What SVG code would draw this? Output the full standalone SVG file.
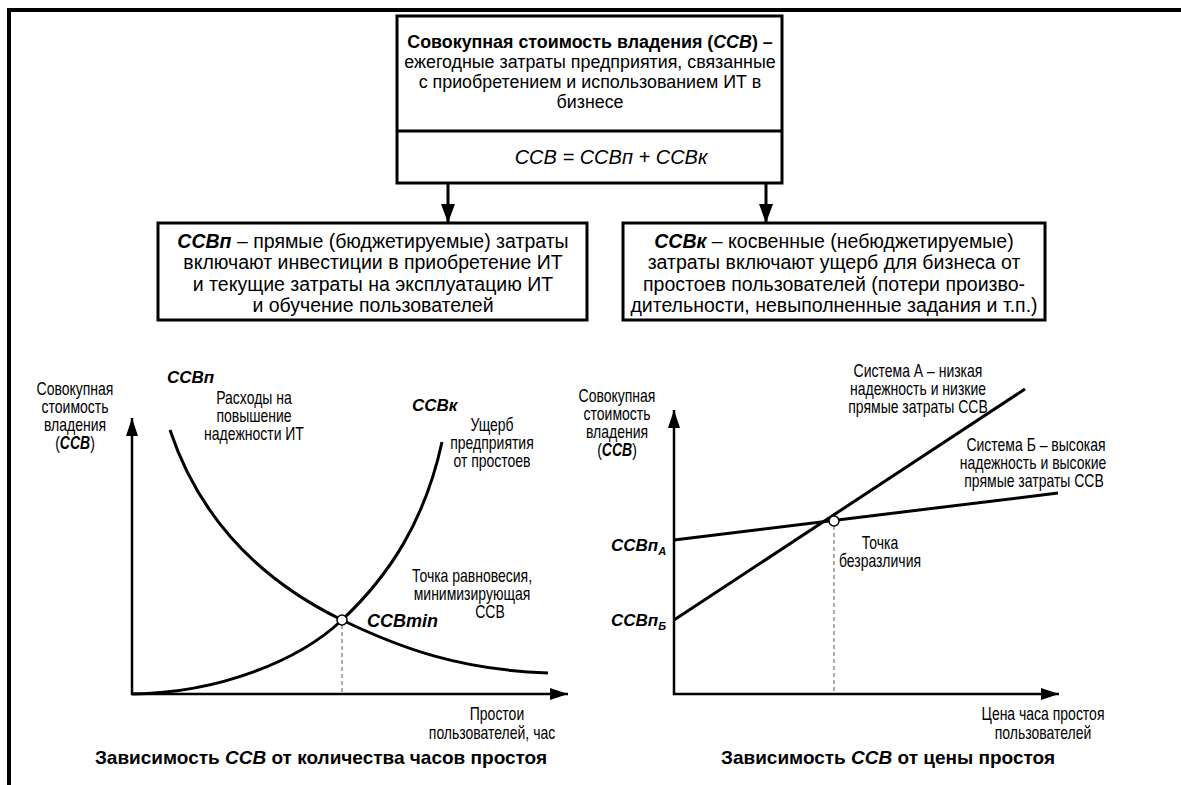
<svg xmlns="http://www.w3.org/2000/svg" width="1181" height="785" viewBox="0 0 1181 785">
<defs>
<style>
.t{font-family:"Liberation Sans",Arial,sans-serif;fill:#000}
.tb{font-size:19px;text-anchor:middle}
.bx{font-size:19.5px;text-anchor:middle}
.lb{font-size:17.5px;text-anchor:middle}
.b{font-weight:bold}
.i{font-style:italic}
.box{fill:#fff;stroke:#000;stroke-width:3}
.ln{fill:none;stroke:#000;stroke-width:3}
.ax{fill:none;stroke:#000;stroke-width:2.5}
.dash{fill:none;stroke:#555;stroke-width:1;stroke-dasharray:4,3}
</style>
<marker id="ah" markerUnits="userSpaceOnUse" markerWidth="20" markerHeight="14" refX="18" refY="7" orient="auto"><path d="M0,0 L19,7 L0,14 Z" fill="#000"/></marker>
<marker id="ax" markerUnits="userSpaceOnUse" markerWidth="20" markerHeight="12" refX="18" refY="6" orient="auto"><path d="M0,0 L18,6 L0,12 Z" fill="#000"/></marker>
</defs>
<rect width="1181" height="785" fill="#fff"/>
<path d="M9,785 V10 H1181" fill="none" stroke="#000" stroke-width="4"/>

<g id="node-ccb">
<rect class="box" x="397" y="16" width="385" height="167"/>
<line x1="397" y1="131" x2="782" y2="131" stroke="#000" stroke-width="3"/>
<text class="t tb b" transform="translate(590 48) scale(0.94 1)">Совокупная стоимость владения (<tspan class="i">ССВ</tspan>) –</text>
<text class="t tb" transform="translate(590 68) scale(0.94 1)">ежегодные затраты предприятия, связанные</text>
<text class="t tb" transform="translate(590 88) scale(0.94 1)">с приобретением и использованием ИТ в</text>
<text class="t tb" transform="translate(590 108) scale(0.94 1)">бизнесе</text>
<text class="t i" x="611" y="164" font-size="20" text-anchor="middle">ССВ = ССВп + ССВк</text>
</g>

<g id="node-ccbp">
<rect class="box" x="158" y="223" width="429" height="97"/>
<text class="t bx" x="373" y="248"><tspan class="b i">ССВп</tspan> – прямые (бюджетируемые) затраты</text>
<text class="t bx" x="373" y="269">включают инвестиции в приобретение ИТ</text>
<text class="t bx" x="373" y="291">и текущие затраты на эксплуатацию ИТ</text>
<text class="t bx" x="373" y="312">и обучение пользователей</text>
</g>

<g id="node-ccbk">
<rect class="box" x="623" y="223" width="422" height="97"/>
<text class="t bx" x="834" y="248"><tspan class="b i">ССВк</tspan> – косвенные (небюджетируемые)</text>
<text class="t bx" x="834" y="269">затраты включают ущерб для бизнеса от</text>
<text class="t bx" x="834" y="291">простоев пользователей (потери произво-</text>
<text class="t bx" x="834" y="312">дительности, невыполненные задания и т.п.)</text>
</g>

<g id="connectors">
<line class="ln" x1="448" y1="183" x2="448" y2="222" marker-end="url(#ah)"/>
<line class="ln" x1="766" y1="183" x2="766" y2="222" marker-end="url(#ah)"/>
</g>

<g id="chart-left">
<line class="ax" x1="132" y1="695" x2="132" y2="418" marker-end="url(#ax)"/>
<line class="ax" x1="131" y1="694" x2="568" y2="694" marker-end="url(#ax)"/>
<line class="dash" x1="342" y1="625" x2="342" y2="693"/>
<path class="ln" d="M170,430 C200,520 260,580 342,620 C400,648 460,670 548,673"/>
<path class="ln" d="M132,694 C220,693 300,660 342,620 C390,575 425,520 442,442"/>
<circle cx="342" cy="620" r="5" fill="#fff" stroke="#000" stroke-width="1.5"/>
<text class="t lb" transform="translate(75 395) scale(0.8 1)">Совокупная</text>
<text class="t lb" transform="translate(75 413) scale(0.8 1)">стоимость</text>
<text class="t lb" transform="translate(75 431) scale(0.8 1)">владения</text>
<text class="t lb" transform="translate(75 449) scale(0.8 1)">(<tspan class="b i">ССВ</tspan>)</text>
<text class="t b i" x="167" y="383" font-size="17">ССВп</text>
<text class="t lb" transform="translate(254 404) scale(0.8 1)">Расходы на</text>
<text class="t lb" transform="translate(254 422) scale(0.8 1)">повышение</text>
<text class="t lb" transform="translate(254 440) scale(0.8 1)">надежности ИТ</text>
<text class="t b i" x="412" y="411" font-size="17">ССВк</text>
<text class="t lb" transform="translate(492 431) scale(0.8 1)">Ущерб</text>
<text class="t lb" transform="translate(492 449) scale(0.8 1)">предприятия</text>
<text class="t lb" transform="translate(492 467) scale(0.8 1)">от простоев</text>
<text class="t lb" transform="translate(472 582) scale(0.8 1)">Точка равновесия,</text>
<text class="t lb" transform="translate(472 600) scale(0.8 1)">минимизирующая</text>
<text class="t lb" transform="translate(490 618) scale(0.8 1)">ССВ</text>
<text class="t b i" x="367" y="627" font-size="18">ССВmin</text>
<text class="t lb" transform="translate(497 720) scale(0.8 1)">Простои</text>
<text class="t lb" transform="translate(492 739) scale(0.8 1)">пользователей, час</text>
<text class="t b" x="321" y="764" font-size="19" text-anchor="middle">Зависимость <tspan class="i">ССВ</tspan> от количества часов простоя</text>
</g>

<g id="chart-right">
<line class="ax" x1="674" y1="695" x2="674" y2="410" marker-end="url(#ax)"/>
<line class="ax" x1="673" y1="694" x2="1059" y2="694" marker-end="url(#ax)"/>
<line class="dash" x1="834" y1="526" x2="834" y2="693"/>
<line class="ln" x1="674" y1="620" x2="1025" y2="389"/>
<line class="ln" x1="674" y1="540" x2="1058" y2="493"/>
<circle cx="834" cy="521" r="5" fill="#fff" stroke="#000" stroke-width="1.5"/>
<text class="t lb" transform="translate(617 402) scale(0.8 1)">Совокупная</text>
<text class="t lb" transform="translate(617 420) scale(0.8 1)">стоимость</text>
<text class="t lb" transform="translate(617 438) scale(0.8 1)">владения</text>
<text class="t lb" transform="translate(617 456) scale(0.8 1)">(<tspan class="b i">ССВ</tspan>)</text>
<text class="t lb" transform="translate(918 377) scale(0.8 1)">Система А – низкая</text>
<text class="t lb" transform="translate(918 395) scale(0.8 1)">надежность и низкие</text>
<text class="t lb" transform="translate(918 413) scale(0.8 1)">прямые затраты ССВ</text>
<text class="t lb" transform="translate(1036 451) scale(0.8 1)">Система Б – высокая</text>
<text class="t lb" transform="translate(1033 469) scale(0.8 1)">надежность и высокие</text>
<text class="t lb" transform="translate(1034 487) scale(0.8 1)">прямые затраты ССВ</text>
<text class="t lb" transform="translate(880 549) scale(0.8 1)">Точка</text>
<text class="t lb" transform="translate(880 567) scale(0.8 1)">безразличия</text>
<text class="t b i" x="611" y="551" font-size="17">ССВп<tspan font-size="11" dy="4">А</tspan></text>
<text class="t b i" x="611" y="626" font-size="17">ССВп<tspan font-size="11" dy="4">Б</tspan></text>
<text class="t lb" transform="translate(1043 720) scale(0.8 1)">Цена часа простоя</text>
<text class="t lb" transform="translate(1043 739) scale(0.8 1)">пользователей</text>
<text class="t b" x="888" y="764" font-size="19" text-anchor="middle">Зависимость <tspan class="i">ССВ</tspan> от цены простоя</text>
</g>
</svg>
